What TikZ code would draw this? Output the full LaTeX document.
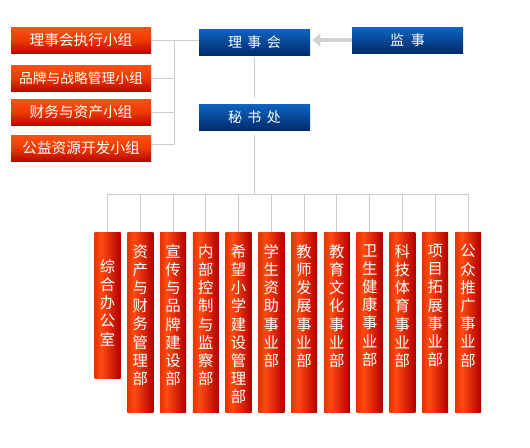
\documentclass[tikz,border=0pt]{standalone}
\usepackage{fontspec}
\newfontfamily\cjk{Noto Sans CJK SC}
\usepackage{tikz}
\usetikzlibrary{arrows.meta}
\usetikzlibrary{positioning}
\usepackage{xcolor}
\definecolor{linkgray}{HTML}{CCCCCC}
\definecolor{arrowgray}{HTML}{D2D2D2}
\definecolor{redtop}{HTML}{FF5014}
\definecolor{redmid}{HTML}{EE3A00}
\definecolor{redbot}{HTML}{B80800}
\definecolor{bluetop}{HTML}{0E64C0}
\definecolor{bluebot}{HTML}{002C6C}
\definecolor{deptl}{HTML}{E63400}
\definecolor{deptm}{HTML}{FF4A12}
\definecolor{deptr}{HTML}{B00000}
\pgfdeclarehorizontalshading{deptshade}{100bp}{color(0bp)=(deptl); color(25bp)=(deptl); color(38bp)=(deptm); color(75bp)=(deptr); color(100bp)=(deptr)}

\begin{document}
\begin{tikzpicture}[x=0.75pt,y=-0.75pt,
  groupbox/.style={top color=redtop, bottom color=redbot, middle color=redmid, minimum width=105pt, minimum height=19.5pt, inner sep=0pt, text=white, font=\cjk\fontsize{11}{12}\selectfont},
  boardbox/.style={top color=bluetop, bottom color=bluebot, minimum width=83.25pt, minimum height=19.5pt, inner sep=0pt, text=white, font=\cjk\fontsize{10.5}{12}\selectfont},
  deptbox/.style={shading=deptshade, minimum width=19.5pt, minimum height=135pt, inner sep=0pt},
  depttext/.style={text=white, align=center, inner sep=0pt, font=\cjk\fontsize{11.5}{13.65}\selectfont},
  link/.style={draw=linkgray, line width=0.75pt}]

\useasboundingbox (0,0) rectangle (530,447);

\node[groupbox] (g1) at (81,40) {理事会执行小组};
\node[groupbox, font=\cjk\fontsize{10.3}{12}\selectfont] (g2) at (81,78) {品牌与战略管理小组};
\node[groupbox] (g3) at (81,112) {财务与资产小组};
\node[groupbox] (g4) at (81,148) {公益资源开发小组};
\node[boardbox] (bd) at (254.5,42) {理\hspace{4pt}事\hspace{4pt}会};
\node[boardbox] (js) at (407.5,40) {监\hspace{5pt}事};
\node[boardbox] (ms) at (254.5,117) {秘\hspace{4pt}书\hspace{4pt}处};
\coordinate (gbus) at (174,40);
\coordinate (dbus) at (254.5,194);

\node[deptbox, minimum height=109.5pt] (d1) at (107.5,305) {};
\node[deptbox] (d2) at (140.3,322) {};
\node[deptbox] (d3) at (173,322) {};
\node[deptbox] (d4) at (205.8,322) {};
\node[deptbox] (d5) at (238.6,322) {};
\node[deptbox] (d6) at (271.4,322) {};
\node[deptbox] (d7) at (304.1,322) {};
\node[deptbox] (d8) at (336.9,322) {};
\node[deptbox] (d9) at (369.7,322) {};
\node[deptbox] (d10) at (402.4,322) {};
\node[deptbox] (d11) at (435.2,322) {};
\node[deptbox] (d12) at (468,322) {};

\node[depttext, below=20.5pt of d1.north] (t1) {综\\合\\办\\公\\室};
\node[depttext, below=9.25pt of d2.north] (t2) {资\\产\\与\\财\\务\\管\\理\\部};
\node[depttext, below=9.25pt of d3.north] (t3) {宣\\传\\与\\品\\牌\\建\\设\\部};
\node[depttext, below=9.25pt of d4.north] (t4) {内\\部\\控\\制\\与\\监\\察\\部};
\node[depttext, below=9.25pt of d5.north] (t5) {希\\望\\小\\学\\建\\设\\管\\理\\部};
\node[depttext, below=9.25pt of d6.north] (t6) {学\\生\\资\\助\\事\\业\\部};
\node[depttext, below=9.25pt of d7.north] (t7) {教\\师\\发\\展\\事\\业\\部};
\node[depttext, below=9.25pt of d8.north] (t8) {教\\育\\文\\化\\事\\业\\部};
\node[depttext, below=9.25pt of d9.north] (t9) {卫\\生\\健\\康\\事\\业\\部};
\node[depttext, below=9.25pt of d10.north] (t10) {科\\技\\体\\育\\事\\业\\部};
\node[depttext, below=9.25pt of d11.north] (t11) {项\\目\\拓\\展\\事\\业\\部};
\node[depttext, below=9.25pt of d12.north] (t12) {公\\众\\推\\广\\事\\业\\部};

\draw [link] (g1.east) -- (g1.east -| bd.west);
\draw [link] (g2.east) -- (g2.east -| gbus);
\draw [link] (g3.east) -- (g3.east -| gbus);
\draw [link] ([yshift=3pt]g4.east) -- ([yshift=3pt]g4.east -| gbus) -- (gbus);
\draw [draw=arrowgray, line width=3.4pt, -{Triangle[length=6pt,width=9.5pt]}, shorten >=1.5pt] (js.west) -- (js.west -| bd.east);
\draw [link, shorten <=1.3pt, shorten >=4.3pt] (bd.south) -- (ms.north);
\draw [link, shorten <=3.75pt] (ms.south) -- (dbus);
\draw [link] (d1.north) -- (d1.north |- dbus) -- (d12.north |- dbus) -- (d12.north);
\draw [link] (d2.north |- dbus) -- (d2.north);
\draw [link] (d3.north |- dbus) -- (d3.north);
\draw [link] (d4.north |- dbus) -- (d4.north);
\draw [link] (d5.north |- dbus) -- (d5.north);
\draw [link] (d6.north |- dbus) -- (d6.north);
\draw [link] (d7.north |- dbus) -- (d7.north);
\draw [link] (d8.north |- dbus) -- (d8.north);
\draw [link] (d9.north |- dbus) -- (d9.north);
\draw [link] (d10.north |- dbus) -- (d10.north);
\draw [link] (d11.north |- dbus) -- (d11.north);
\end{tikzpicture}
\end{document}
